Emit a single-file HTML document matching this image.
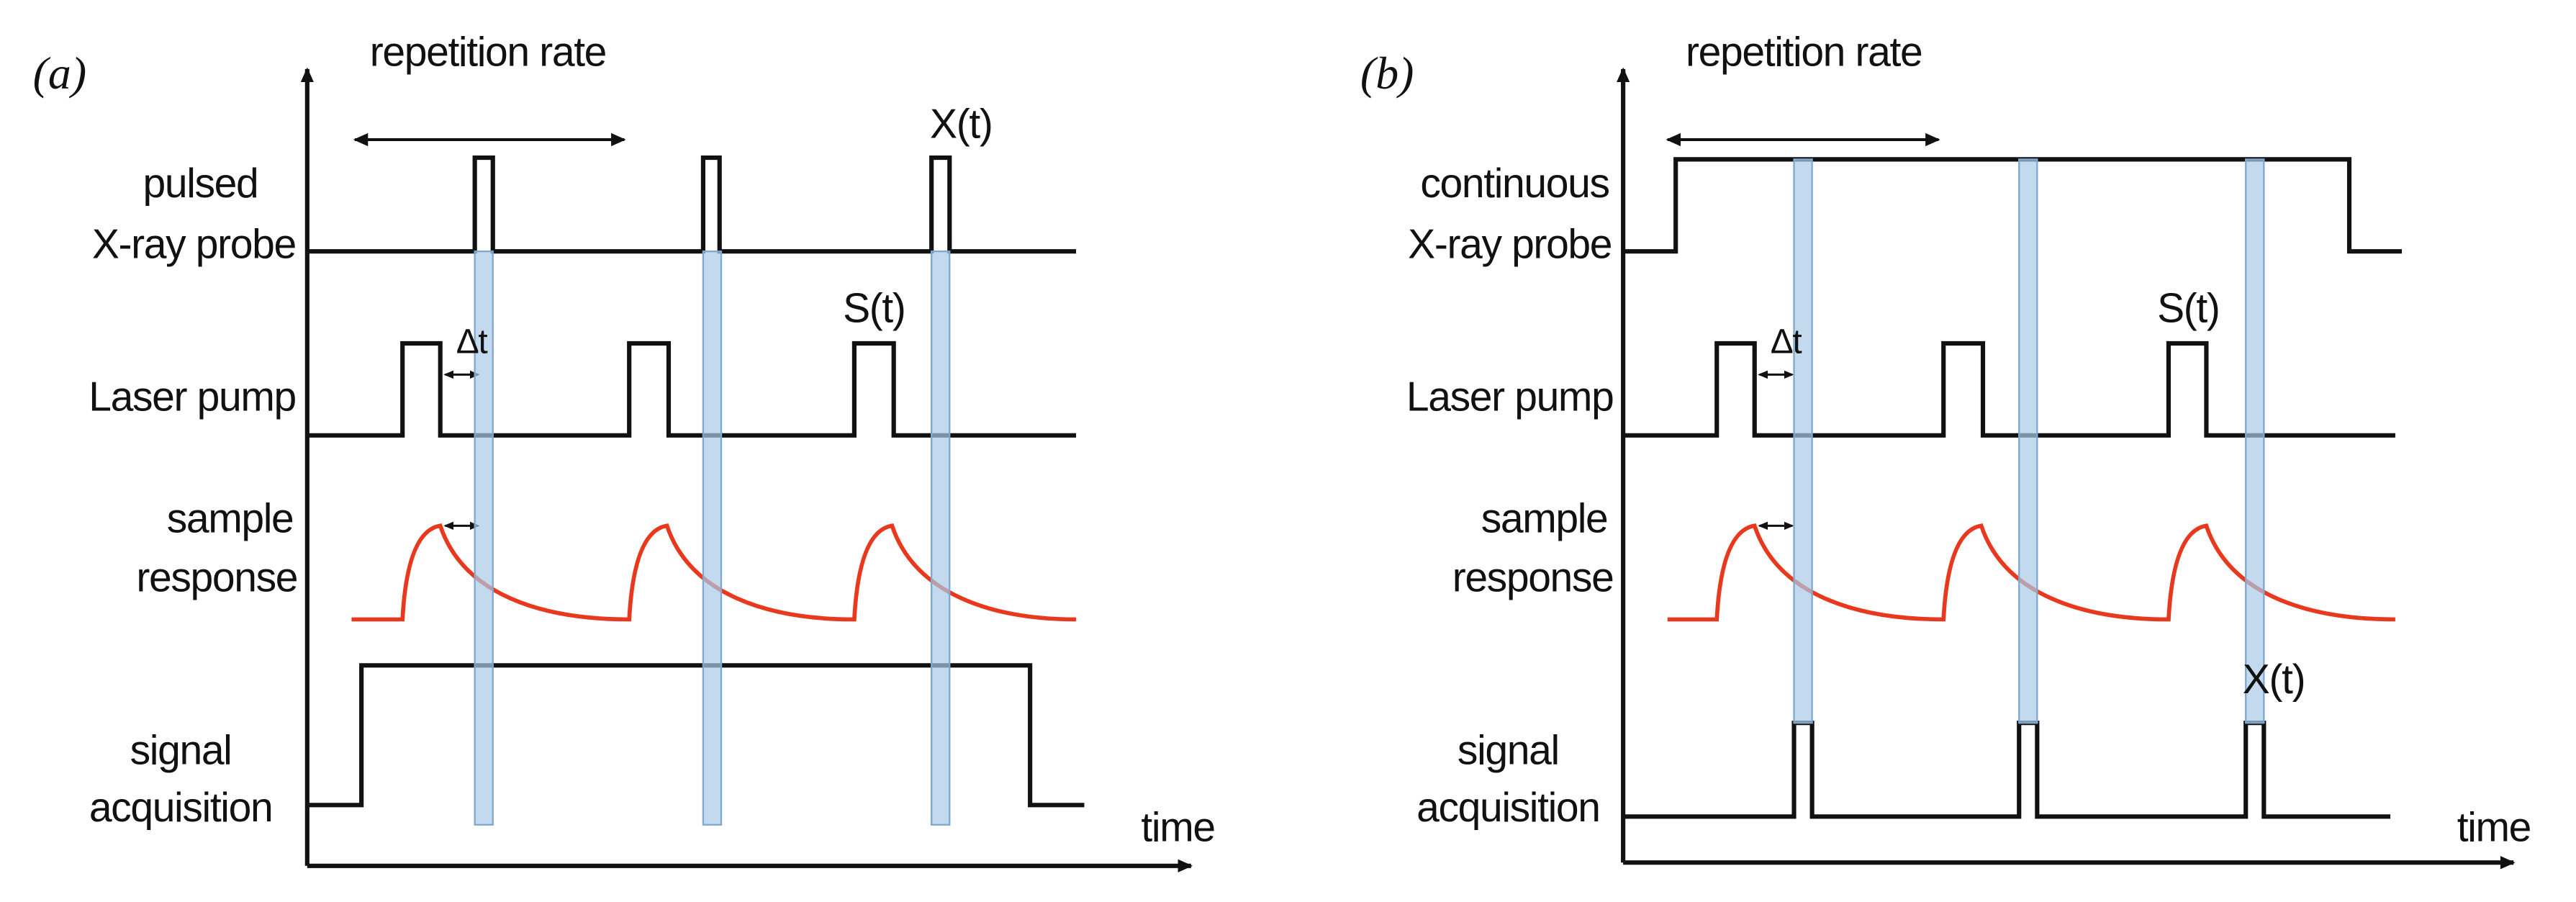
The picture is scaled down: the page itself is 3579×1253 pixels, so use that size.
<!DOCTYPE html>
<html><head><meta charset="utf-8"><style>
html,body{margin:0;padding:0;background:#fff;}
svg{display:block;}
text{font-family:"Liberation Sans",sans-serif;font-size:25px;fill:#111;letter-spacing:-0.6px;}
.it{font-family:"Liberation Serif",serif;font-style:italic;font-size:28px;letter-spacing:0;}
</style></head><body>
<svg width="3579" height="1253" viewBox="0 0 1568 549" preserveAspectRatio="none" xmlns="http://www.w3.org/2000/svg">
<defs>
<marker id="ah" markerWidth="10" markerHeight="10" refX="8" refY="5" orient="auto-start-reverse" markerUnits="userSpaceOnUse"><path d="M0,1 L9,5 L0,9 Z" fill="#111"/></marker>
<marker id="as" markerWidth="6" markerHeight="6" refX="5" refY="3" orient="auto-start-reverse" markerUnits="userSpaceOnUse"><path d="M0,0.5 L6,3 L0,5.5 Z" fill="#111"/></marker>
</defs>
<g fill="none" stroke="#111" stroke-width="2.7">
<line x1="187" y1="527" x2="187" y2="42" marker-end="url(#ah)"/>
<line x1="187" y1="527" x2="725" y2="527" marker-end="url(#ah)"/>
<line x1="216" y1="85" x2="380" y2="85" stroke-width="1.8" marker-start="url(#ah)" marker-end="url(#ah)"/>
<path d="M188,153 H289 V96 H300 V153 H428 V96 H438 V153 H567 V96 H578 V153 H655"/>
<path d="M188,265 H245 V209 H268 V265 H383 V209 H407 V265 H520 V209 H544 V265 H655"/>
<path d="M188,490 H220 V405 H627 V490 H660"/>
<line x1="271" y1="228" x2="291" y2="228" stroke-width="1.3" marker-start="url(#as)" marker-end="url(#as)"/>
<line x1="271" y1="320" x2="291" y2="320" stroke-width="1.3" marker-start="url(#as)" marker-end="url(#as)"/>
<line x1="988" y1="525" x2="988" y2="42" marker-end="url(#ah)"/>
<line x1="988" y1="525" x2="1530" y2="525" marker-end="url(#ah)"/>
<line x1="1015" y1="85" x2="1180" y2="85" stroke-width="1.8" marker-start="url(#ah)" marker-end="url(#ah)"/>
<path d="M989,153 H1020 V97 H1430 V153 H1462"/>
<path d="M989,265 H1045 V209 H1068 V265 H1183 V209 H1207 V265 H1320 V209 H1343 V265 H1458"/>
<path d="M989,497 H1092 V440 H1103 V497 H1229 V440 H1240 V497 H1367 V440 H1378 V497 H1455"/>
<line x1="1071" y1="228" x2="1091" y2="228" stroke-width="1.3" marker-start="url(#as)" marker-end="url(#as)"/>
<line x1="1071" y1="320" x2="1091" y2="320" stroke-width="1.3" marker-start="url(#as)" marker-end="url(#as)"/>
</g>
<g fill="none" stroke="#e8391f" stroke-width="2.5">
<path d="M214,377 H245 C247,340 255,322 268,320 C282,362 330,377 383,377 C385,340 393,322 406,320 C420,362 468,377 520,377 C522,340 530,322 543,320 C557,362 605,377 655,377"/>
<path d="M1015,377 H1045 C1047,340 1055,322 1068,320 C1082,362 1130,377 1183,377 C1185,340 1193,322 1206,320 C1220,362 1268,377 1320,377 C1322,340 1330,322 1343,320 C1357,362 1405,377 1458,377"/>
</g>
<g fill="#a9c9e6" fill-opacity="0.7" stroke="#7ea8d0" stroke-width="1">
<rect x="289" y="153" width="11" height="349"/>
<rect x="428" y="153" width="11" height="349"/>
<rect x="567" y="153" width="11" height="349"/>
<rect x="1092" y="97" width="11" height="343"/>
<rect x="1229" y="97" width="11" height="343"/>
<rect x="1367" y="97" width="11" height="343"/>
</g>
<text class="it" x="20" y="54">(a)</text>
<text x="297" y="40" text-anchor="middle">repetition rate</text>
<text x="585" y="84" text-anchor="middle">X(t)</text>
<text x="532" y="196" text-anchor="middle">S(t)</text>
<text x="287" y="215" text-anchor="middle" style="font-size:21px">Δt</text>
<text x="122" y="120" text-anchor="middle">pulsed</text>
<text x="180" y="157" text-anchor="end">X-ray probe</text>
<text x="180" y="250" text-anchor="end">Laser pump</text>
<text x="140" y="324" text-anchor="middle">sample</text>
<text x="181" y="360" text-anchor="end">response</text>
<text x="110" y="465" text-anchor="middle">signal</text>
<text x="110" y="500" text-anchor="middle">acquisition</text>
<text x="717" y="512" text-anchor="middle">time</text>
<text class="it" x="828" y="54">(b)</text>
<text x="1098" y="40" text-anchor="middle">repetition rate</text>
<text x="1384" y="422" text-anchor="middle">X(t)</text>
<text x="1332" y="196" text-anchor="middle">S(t)</text>
<text x="1087" y="215" text-anchor="middle" style="font-size:21px">Δt</text>
<text x="922" y="120" text-anchor="middle">continuous</text>
<text x="981" y="157" text-anchor="end">X-ray probe</text>
<text x="982" y="250" text-anchor="end">Laser pump</text>
<text x="940" y="324" text-anchor="middle">sample</text>
<text x="982" y="360" text-anchor="end">response</text>
<text x="918" y="465" text-anchor="middle">signal</text>
<text x="918" y="500" text-anchor="middle">acquisition</text>
<text x="1518" y="512" text-anchor="middle">time</text>
</svg>
</body></html>
